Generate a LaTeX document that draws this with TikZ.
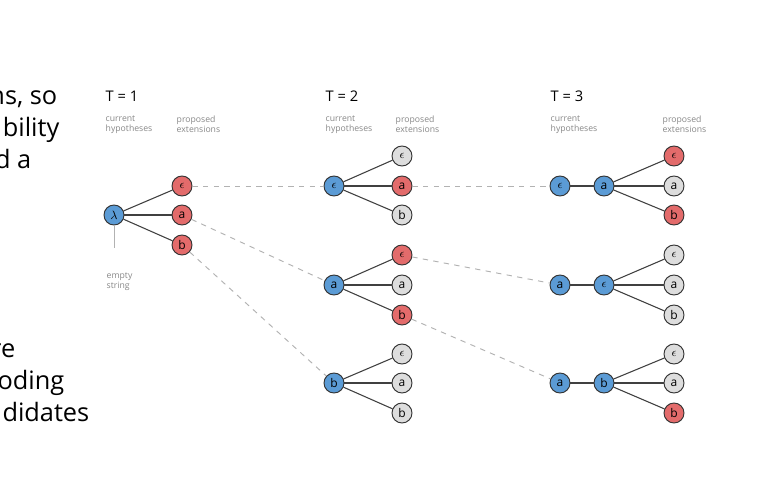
\documentclass[tikz,border=0pt]{standalone}
\usepackage{fontspec}
\setmainfont{Open Sans}
\usetikzlibrary{positioning}
\definecolor{hypblue}{HTML}{5B9BD5}
\definecolor{extred}{HTML}{E36B6B}
\definecolor{extgray}{HTML}{DDDDDD}
\definecolor{captgray}{HTML}{888888}
\tikzset{
  tok/.style={circle,draw=black!80,line width=0.7pt,minimum size=15pt,inner sep=0pt,font=\fontsize{9}{9}\selectfont},
  hyp/.style={tok,fill=hypblue},
  red/.style={tok,fill=extred},
  gray/.style={tok,fill=extgray},
  edge/.style={draw=black!75,line width=0.8pt},
  link/.style={draw=black!30,dashed,line width=0.7pt,dash pattern=on 4pt off 4pt},
  head/.style={anchor=north west,font=\fontsize{11}{11}\selectfont},
  capt/.style={anchor=north west,align=left,text=captgray,font=\fontsize{6.5}{7.5}\selectfont},
  side/.style={anchor=base east,font=\fontsize{19}{19}\selectfont}
}
\begin{document}
\begin{tikzpicture}[x=0.75pt,y=-0.75pt]
\useasboundingbox[fill=white] (0,0) rectangle (760,500);
% cut-off text on the left
\node[side] at (62,104) {ns, so};
\node[side] at (64,136) {bility};
\node[side] at (36,168) {d a};
\node[side] at (20,357) {re};
\node[side] at (69,389) {oding};
\node[side] at (94,421) {didates};
% headings
\node[head] (t1) at (101,86) {T = 1};
\node[head] (t2) at (321,86) {T = 2};
\node[head] (t3) at (546,86) {T = 3};
\node[capt] at (101,111) {current\\hypotheses};
\node[capt] at (172,111) {proposed\\extensions};
\node[capt] at (321,111) {current\\hypotheses};
\node[capt] at (391,111) {proposed\\extensions};
\node[capt] at (546,111) {current\\hypotheses};
\node[capt] at (658,111) {proposed\\extensions};
% T = 1
\node[hyp] (r1) at (114,215) {$\lambda$};
\node[red] (r1e) at (182,186) {$\epsilon$};
\node[red] (r1a) at (182,215) {a};
\node[red] (r1b) at (182,245) {b};
\foreach \c in {r1e,r1a,r1b} \path[edge] (r1) -- (\c);
\coordinate (es) at (114,248);
\path[draw=black!30,line width=0.7pt] (r1) -- (es);
\node[capt,anchor=north west] at (102,268) {empty\\string};
% T = 2
\node[hyp] (p) at (334,186) {$\epsilon$};
\node[gray] (pe) at (402,156) {$\epsilon$};
\node[red] (pa) at (402,186) {a};
\node[gray] (pb) at (402,215) {b};
\node[hyp] (q) at (334,285) {a};
\node[red] (qe) at (402,255) {$\epsilon$};
\node[gray] (qa) at (402,285) {a};
\node[red] (qb) at (402,315) {b};
\node[hyp] (s) at (334,383) {b};
\node[gray] (se) at (402,354) {$\epsilon$};
\node[gray] (sa) at (402,383) {a};
\node[gray] (sb) at (402,413) {b};
\foreach \r in {p,q,s}
  \foreach \x in {e,a,b} \path[edge] (\r) -- (\r\x);
% T = 3
\node[hyp] (u0) at (560,186) {$\epsilon$};
\node[hyp] (u) at (604,186) {a};
\node[red] (ue) at (674,156) {$\epsilon$};
\node[gray] (ua) at (674,186) {a};
\node[red] (ub) at (674,215) {b};
\node[hyp] (v0) at (560,285) {a};
\node[hyp] (v) at (604,285) {$\epsilon$};
\node[gray] (ve) at (674,255) {$\epsilon$};
\node[gray] (va) at (674,285) {a};
\node[gray] (vb) at (674,315) {b};
\node[hyp] (w0) at (560,383) {a};
\node[hyp] (w) at (604,383) {b};
\node[gray] (we) at (674,354) {$\epsilon$};
\node[gray] (wa) at (674,383) {a};
\node[red] (wb) at (674,413) {b};
\foreach \r in {u,v,w} {
  \path[edge] (\r0) -- (\r);
  \foreach \x in {e,a,b} \path[edge] (\r) -- (\r\x);
}
% kept hypotheses
\path[link] (r1e) -- (p);
\path[link] (r1a) -- (q);
\path[link] (r1b) -- (s);
\path[link] (pa) -- (u0);
\path[link] (qe) -- (v0);
\path[link] (qb) -- (w0);
\end{tikzpicture}
\end{document}
